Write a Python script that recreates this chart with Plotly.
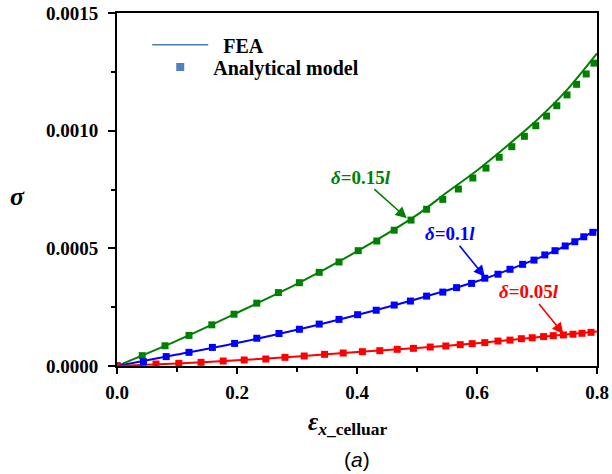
import plotly.graph_objects as go

# ---------------- data ----------------
# Analytical model (markers)
x_green = [0.0, 0.042, 0.080, 0.120, 0.158, 0.195, 0.233, 0.269, 0.304, 0.337,
           0.370, 0.402, 0.433, 0.462, 0.490, 0.516, 0.543, 0.569, 0.593, 0.615,
           0.637, 0.658, 0.679, 0.698, 0.716, 0.733, 0.750, 0.766, 0.782, 0.795]
y_green = [0.0, 0.000044, 0.000086, 0.000130, 0.000175, 0.000220, 0.000267, 0.000312,
           0.000354, 0.000398, 0.000442, 0.000490, 0.000531, 0.000577, 0.000620,
           0.000666, 0.000708, 0.000752, 0.000799, 0.000841, 0.000887, 0.000932,
           0.000976, 0.001021, 0.001062, 0.001106, 0.001152, 0.001197, 0.001241,
           0.001287]

x_blue = [0.0, 0.044, 0.082, 0.120, 0.159, 0.196, 0.233, 0.270, 0.304, 0.337,
          0.370, 0.401, 0.432, 0.462, 0.489, 0.516, 0.543, 0.566, 0.591, 0.613,
          0.635, 0.655, 0.676, 0.695, 0.713, 0.730, 0.747, 0.763, 0.778, 0.793]
y_blue = [0.0, 0.000018, 0.000040, 0.000058, 0.000079, 0.000096, 0.000118, 0.000138,
          0.000156, 0.000178, 0.000198, 0.000218, 0.000237, 0.000259, 0.000276,
          0.000297, 0.000314, 0.000333, 0.000351, 0.000373, 0.000390, 0.000411,
          0.000432, 0.000450, 0.000472, 0.000490, 0.000510, 0.000528, 0.000549,
          0.000568]

x_red = [0.0, 0.065, 0.103, 0.140, 0.177, 0.212, 0.248, 0.280, 0.312, 0.346,
         0.377, 0.409, 0.438, 0.467, 0.494, 0.522, 0.548, 0.572, 0.592, 0.613,
         0.635, 0.655, 0.674, 0.692, 0.711, 0.727, 0.744, 0.760, 0.775, 0.790]
y_red = [0.0, 0.0000085, 0.0000113, 0.0000156, 0.0000213, 0.0000255, 0.0000297,
         0.0000368, 0.0000425, 0.0000496, 0.0000552, 0.0000609, 0.0000652,
         0.0000708, 0.0000751, 0.0000807, 0.0000850, 0.0000907, 0.0000949,
         0.0000992, 0.000106, 0.000110, 0.000116, 0.000120, 0.000125, 0.000129,
         0.000132, 0.000135, 0.000139, 0.000143]

# FEA (lines)
x_fea_green = [0.0, 0.1, 0.2, 0.3, 0.4, 0.5, 0.55, 0.6, 0.65, 0.7, 0.75, 0.8]
y_fea_green = [0.0, 0.000108, 0.000226, 0.000349, 0.000487, 0.000642, 0.000738,
               0.000831, 0.000935, 0.001045, 0.001173, 0.001328]
x_fea_blue = [0.0, 0.1, 0.2, 0.3, 0.4, 0.5, 0.6, 0.65, 0.7, 0.75, 0.8]
y_fea_blue = [0.0, 0.0000485, 0.000098, 0.000154, 0.000217, 0.000285, 0.000360,
              0.000406, 0.000456, 0.000513, 0.000578]
x_fea_red = [0.0, 0.1, 0.2, 0.3, 0.4, 0.5, 0.6, 0.7, 0.8]
y_fea_red = [0.0, 0.000011, 0.000024, 0.000040, 0.0000593, 0.0000763, 0.0000965,
             0.000122, 0.000147]

x_ticks = [0.0, 0.2, 0.4, 0.6, 0.8]
y_ticks = [0.0, 0.0005, 0.0010, 0.0015]
top_ticks = [0.0, 0.1, 0.2, 0.3, 0.4, 0.5, 0.6, 0.7, 0.8]

labels = ["<i>δ</i>=0.15<i>l</i>", "<i>δ</i>=0.1<i>l</i>", "<i>δ</i>=0.05<i>l</i>"]
arrow_tips = [(0.483, 0.000628), (0.613, 0.000379), (0.744, 0.000136)]
label_offsets = [(-46, -41), (-35, -43), (-34, -42)]   # label centre relative to tip, px

# ---------------- figure ----------------
SERIF = "Liberation Serif"
colors = ["#008000", "#0000ff", "#ff0000"]

fig = go.Figure()

fea_sets = [(x_fea_green, y_fea_green), (x_fea_blue, y_fea_blue), (x_fea_red, y_fea_red)]
mod_sets = [(x_green, y_green), (x_blue, y_blue), (x_red, y_red)]

for (xf, yf), c in zip(fea_sets, colors):
    fig.add_trace(go.Scatter(x=xf, y=yf, mode="lines",
                             line=dict(color=c, width=2, shape="spline", smoothing=0.8),
                             showlegend=False, hoverinfo="skip"))
for (xm, ym), c in zip(mod_sets, colors):
    fig.add_trace(go.Scatter(x=xm, y=ym, mode="markers",
                             marker=dict(symbol="square", size=7, color=c),
                             showlegend=False, hoverinfo="skip"))

# legend entries
fig.add_trace(go.Scatter(x=[None], y=[None], mode="lines", name="\u00a0\u00a0FEA",
                         line=dict(color="#4a7ebb", width=1.5), legend="legend"))
fig.add_trace(go.Scatter(x=[None], y=[None], mode="markers", name="Analytical model",
                         marker=dict(symbol="square", size=8, color="#4f81bd"),
                         legend="legend2"))

for txt, (tx, ty), (ax, ay), c in zip(labels, arrow_tips, label_offsets, colors):
    fig.add_annotation(x=tx, y=ty, xref="x", yref="y", text=txt, showarrow=True,
                       ax=ax, ay=ay, arrowhead=2, arrowsize=1.4, arrowwidth=1.6,
                       arrowcolor=c, standoff=0,
                       font=dict(family=SERIF, size=19, color=c, weight="bold"))

# axis titles
fig.add_annotation(x=-0.208, y=0.479, xref="paper", yref="paper",
                   xanchor="center", yanchor="middle",
                   text="<i>σ</i>", showarrow=False,
                   font=dict(family=SERIF, size=26, color="black", weight="bold"))
fig.add_annotation(x=0.481, y=-0.163, xref="paper", yref="paper",
                   xanchor="center", yanchor="middle",
                   text="<i>ε</i><sub><i>x</i>_celluar</sub>", showarrow=False,
                   font=dict(family=SERIF, size=25, color="black", weight="bold"))
fig.add_annotation(x=0.5, y=-0.266, xref="paper", yref="paper",
                   xanchor="center", yanchor="middle",
                   text="(<i>a</i>)", showarrow=False,
                   font=dict(family="Liberation Sans", size=21, color="black"))

tickfont = dict(family=SERIF, size=19, color="black", weight="bold")
legfont = dict(family=SERIF, size=20, color="black", weight="bold")

fig.update_layout(
    width=612, height=474,
    margin=dict(l=117, r=15, t=13, b=108, autoexpand=False),
    paper_bgcolor="white", plot_bgcolor="white",
    showlegend=True,
    legend=dict(x=0.063, y=0.965, xanchor="left", yanchor="top", font=legfont,
                bgcolor="rgba(0,0,0,0)", itemwidth=56),
    legend2=dict(x=0.063, y=0.9026, xanchor="left", yanchor="top", font=legfont,
                 bgcolor="rgba(0,0,0,0)", itemwidth=56),
    xaxis=dict(range=[0, 0.8], tickvals=x_ticks, tickformat=".1f", automargin=False,
               showgrid=False, zeroline=False, showline=True, linecolor="black",
               linewidth=2, mirror=True, ticks="outside", ticklen=6, tickwidth=2,
               tickcolor="black", tickfont=tickfont, ticklabelstandoff=2,
               minor=dict(dtick=0.1, ticks="outside", ticklen=4, tickwidth=2,
                          tickcolor="black", showgrid=False)),
    xaxis2=dict(range=[0, 0.8], overlaying="x", side="top", tickvals=top_ticks,
                showticklabels=False, ticks="inside", ticklen=4, tickwidth=2,
                tickcolor="black", showgrid=False, zeroline=False, showline=False,
                automargin=False),
    yaxis=dict(range=[0, 0.0015], tickvals=y_ticks, tickformat=".4f", automargin=False,
               showgrid=False, zeroline=False, showline=True, linecolor="black",
               linewidth=2, mirror=True, ticks="outside", ticklen=7, tickwidth=2,
               tickcolor="black", tickfont=tickfont, ticklabelstandoff=6,
               minor=dict(dtick=0.00025, ticks="outside", ticklen=4, tickwidth=2,
                          tickcolor="black", showgrid=False)),
)

fig.write_html("out.html")
